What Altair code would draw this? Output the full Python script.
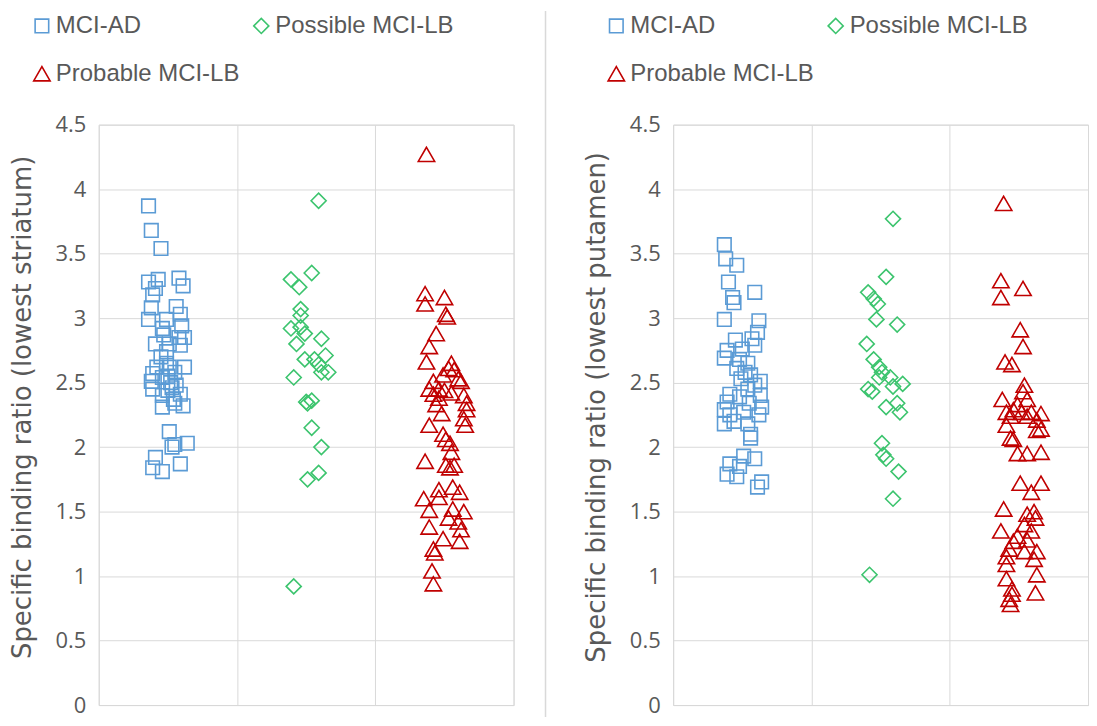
import altair as alt
import pandas as pd

groups = ["MCI-AD", "Possible MCI-LB", "Probable MCI-LB"]
colors = ["#5B9BD5", "#3CC46E", "#C00000"]
shapes = ["square", "diamond", "triangle-up"]
y_ticks = [0, 0.5, 1, 1.5, 2, 2.5, 3, 3.5, 4, 4.5]

# ---- Left panel: lowest striatum ----
ad_s_x = [0.36, 0.38, 0.45, 0.36, 0.43, 0.58, 0.61, 0.41, 0.39, 0.56, 0.38, 0.59, 0.36, 0.49, 0.60, 0.46,
          0.62, 0.41, 0.51, 0.59, 0.49, 0.49, 0.62, 0.51, 0.39, 0.38, 0.46, 0.56, 0.39, 0.50, 0.59, 0.46,
          0.54, 0.46, 0.61, 0.55, 0.51, 0.55, 0.64, 0.41, 0.59, 0.39, 0.46, 0.53, 0.45, 0.55, 0.52, 0.42,
          0.58, 0.47, 0.53, 0.50]
ad_s_y = [3.87, 3.68, 3.54, 3.28, 3.30, 3.31, 3.25, 3.23, 3.18, 3.09, 3.08, 3.03, 2.99, 2.99, 2.94, 2.92,
          2.85, 2.80, 2.80, 2.79, 2.74, 2.65, 2.62, 2.62, 2.57, 2.51, 2.54, 2.48, 2.45, 2.44, 2.41, 2.40,
          2.37, 2.31, 2.32, 2.34, 2.12, 2.02, 2.03, 1.92, 1.87, 1.84, 1.81, 2.00, 2.70, 2.58, 2.50, 2.62,
          2.85, 2.87, 2.46, 2.55]

pos_s_x = [1.59, 1.39, 1.54, 1.45, 1.46, 1.46, 1.39, 1.46, 1.49, 1.43, 1.61, 1.49, 1.56, 1.64, 1.59, 1.61,
           1.66, 1.41, 1.50, 1.54, 1.51, 1.54, 1.61, 1.59, 1.51, 1.41]
pos_s_y = [3.91, 3.30, 3.35, 3.24, 3.07, 3.02, 2.92, 2.93, 2.88, 2.80, 2.84, 2.68, 2.68, 2.71, 2.64, 2.58,
           2.58, 2.54, 2.35, 2.36, 2.34, 2.15, 2.00, 1.80, 1.75, 0.92]

prob_s_x = [2.37, 2.36, 2.36, 2.50, 2.51, 2.52, 2.44, 2.39, 2.37, 2.55, 2.53, 2.57, 2.49, 2.60, 2.42, 2.62,
            2.39, 2.46, 2.50, 2.42, 2.64, 2.46, 2.55, 2.66, 2.44, 2.66, 2.48, 2.64, 2.65, 2.39, 2.49, 2.51,
            2.54, 2.55, 2.36, 2.51, 2.57, 2.54, 2.46, 2.56, 2.61, 2.35, 2.46, 2.39, 2.56, 2.64, 2.60, 2.39,
            2.53, 2.62, 2.61, 2.49, 2.42, 2.43, 2.41, 2.42]
prob_s_y = [4.27, 3.19, 3.11, 3.16, 3.03, 3.01, 2.88, 2.78, 2.66, 2.65, 2.61, 2.60, 2.56, 2.53, 2.51, 2.51,
            2.45, 2.45, 2.44, 2.41, 2.40, 2.38, 2.42, 2.34, 2.33, 2.29, 2.26, 2.22, 2.17, 2.17, 2.10, 2.06,
            2.03, 1.96, 1.89, 1.86, 1.86, 1.84, 1.67, 1.69, 1.65, 1.60, 1.61, 1.51, 1.52, 1.50, 1.42, 1.38,
            1.45, 1.36, 1.27, 1.29, 1.21, 1.18, 1.04, 0.94]

# ---- Right panel: lowest putamen ----
ad_p_x = [0.37, 0.38, 0.46, 0.40, 0.59, 0.43, 0.44, 0.37, 0.62, 0.61, 0.45, 0.57, 0.59, 0.39, 0.50, 0.37,
          0.48, 0.54, 0.46, 0.52, 0.56, 0.49, 0.63, 0.59, 0.54, 0.41, 0.48, 0.63, 0.39, 0.55, 0.64, 0.37,
          0.51, 0.41, 0.62, 0.37, 0.44, 0.54, 0.56, 0.56, 0.51, 0.59, 0.41, 0.48, 0.39, 0.46, 0.64, 0.61]
ad_p_y = [3.57, 3.46, 3.41, 3.28, 3.20, 3.16, 3.12, 2.99, 2.98, 2.89, 2.83, 2.84, 2.79, 2.75, 2.76, 2.69,
          2.68, 2.65, 2.61, 2.58, 2.56, 2.53, 2.51, 2.48, 2.45, 2.41, 2.39, 2.40, 2.35, 2.34, 2.31, 2.29,
          2.27, 2.25, 2.25, 2.18, 2.20, 2.18, 2.10, 2.07, 1.93, 1.91, 1.87, 1.85, 1.79, 1.77, 1.73, 1.69]

pos_p_x = [1.59, 1.54, 1.41, 1.45, 1.48, 1.62, 1.47, 1.40, 1.45, 1.49, 1.51, 1.49, 1.57, 1.59, 1.66, 1.41,
           1.44, 1.54, 1.62, 1.64, 1.51, 1.52, 1.54, 1.63, 1.59, 1.42]
pos_p_y = [3.77, 3.32, 3.20, 3.15, 3.11, 2.95, 2.99, 2.80, 2.68, 2.62, 2.58, 2.54, 2.54, 2.47, 2.49, 2.45,
           2.43, 2.31, 2.34, 2.27, 2.03, 1.94, 1.91, 1.81, 1.60, 1.01]

prob_p_x = [2.39, 2.37, 2.37, 2.53, 2.51, 2.53, 2.40, 2.45, 2.54, 2.53, 2.38, 2.56, 2.49, 2.41, 2.46, 2.52,
            2.59, 2.66, 2.44, 2.56, 2.63, 2.41, 2.66, 2.63, 2.44, 2.46, 2.49, 2.56, 2.66, 2.51, 2.66, 2.59,
            2.39, 2.56, 2.61, 2.62, 2.54, 2.37, 2.59, 2.49, 2.46, 2.56, 2.43, 2.54, 2.63, 2.41, 2.61, 2.41,
            2.63, 2.41, 2.45, 2.62, 2.43, 2.44, 2.45]
prob_p_y = [3.89, 3.29, 3.16, 3.23, 2.91, 2.78, 2.66, 2.64, 2.48, 2.43, 2.37, 2.37, 2.33, 2.27, 2.29, 2.27,
            2.27, 2.26, 2.24, 2.24, 2.21, 2.17, 2.14, 2.13, 2.07, 2.06, 1.95, 1.95, 1.96, 1.72, 1.72, 1.65,
            1.52, 1.48, 1.50, 1.45, 1.40, 1.35, 1.35, 1.31, 1.27, 1.28, 1.21, 1.19, 1.19, 1.15, 1.13, 1.09,
            1.01, 0.98, 0.90, 0.87, 0.82, 0.78, 0.86]


def make_df(series):
    rows = []
    for g, xs, ys in series:
        for xv, yv in zip(xs, ys):
            rows.append({"x": xv, "y": yv, "group": g})
    return pd.DataFrame(rows)


df_s = make_df([(groups[0], ad_s_x, ad_s_y), (groups[1], pos_s_x, pos_s_y), (groups[2], prob_s_x, prob_s_y)])
df_p = make_df([(groups[0], ad_p_x, ad_p_y), (groups[1], pos_p_x, pos_p_y), (groups[2], prob_p_x, prob_p_y)])

FONT = "Open Sans"
LFONT = "Liberation Sans"
TFONT = "DejaVu Sans"
GRAY = "#D9D9D9"
TXT = "#595959"
W, H = 416, 582


def legend():
    return alt.Legend(
        title=None, orient="none", legendX=-69, legendY=-111, columns=2, direction="horizontal",
        columnPadding=9, rowPadding=24, labelFontSize=24, labelFont=LFONT,
        labelColor=TXT, symbolSize=170, symbolStrokeWidth=1.6, labelOffset=2,
        labelLimit=400, padding=0,
    )


def panel(df, ytitle, separator=False):
    pts = alt.Chart(df).mark_point(filled=False, strokeWidth=1.6, opacity=1).encode(
        x=alt.X("x:Q", scale=alt.Scale(domain=[0, 3], nice=False, zero=False),
                axis=alt.Axis(values=[0, 1, 2, 3], labels=False, ticks=False, domain=False,
                              title=None, grid=True, gridColor=GRAY)),
        y=alt.Y("y:Q", scale=alt.Scale(domain=[0, 4.5], nice=False),
                axis=alt.Axis(values=y_ticks, format=".1~f", ticks=False, domain=False,
                              grid=True, gridColor=GRAY, labelFontSize=22, labelFont=FONT,
                              labelColor=TXT, labelPadding=13, title=ytitle,
                              titleFontSize=26, titleFont=TFONT, titleColor=TXT,
                              titleFontWeight="normal", titlePadding=20, titleY=283)),
        color=alt.Color("group:N", scale=alt.Scale(domain=groups, range=colors), legend=legend()),
        shape=alt.Shape("group:N", scale=alt.Scale(domain=groups, range=shapes), legend=legend()),
        size=alt.Size("group:N", scale=alt.Scale(domain=groups, range=[185, 270, 260]), legend=None),
    )
    if separator:
        rule = alt.Chart(pd.DataFrame({"a": [0]})).mark_rule(color=GRAY, strokeWidth=1.5).encode(
            x=alt.value(-128), y=alt.value(-114), y2=alt.value(594))
        return alt.layer(rule, pts).properties(width=W, height=H)
    return pts.properties(width=W, height=H)


left = panel(df_s, "Specific binding ratio (lowest striatum)")
right = panel(df_p, "Specific binding ratio (lowest putamen)", separator=True)

chart = alt.hconcat(left, right, spacing=29).resolve_scale(
    color="independent", shape="independent", size="independent"
).resolve_legend(color="independent", shape="independent").properties(
    padding=0
).configure_view(stroke=GRAY, strokeWidth=1)

chart.save("out.html", embed_options={"renderer": "svg", "actions": False})
